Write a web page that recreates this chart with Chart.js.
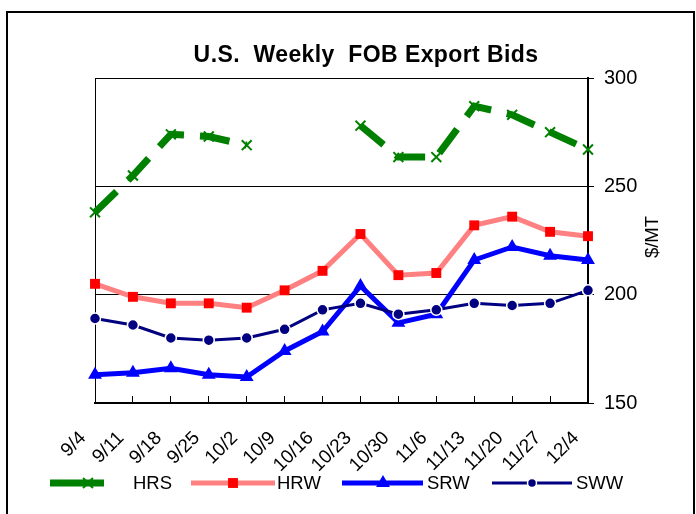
<!DOCTYPE html>
<html>
<head>
<meta charset="utf-8">
<title>U.S. Weekly FOB Export Bids</title>
<script src="https://cdn.jsdelivr.net/npm/chart.js@4.4.1/dist/chart.umd.min.js"></script>
<style>
  html, body { margin: 0; padding: 0; background: #ffffff; }
  #wrap { width: 696px; height: 514px; }
</style>
</head>
<body>
<div id="wrap"><canvas id="chart" width="696" height="514"></canvas></div>
<script>
// weekly bids, $/MT
const weeks = ['9/4', '9/11', '9/18', '9/25', '10/2', '10/9', '10/16', '10/23', '10/30', '11/6', '11/13', '11/20', '11/27', '12/4'];
const hrs = [238, 255, 274, 273, 269, null, null, 278, 263.5, 263.5, 287, 283, 275, 267];
const hrw = [205, 199, 196, 196, 194, 202, 211, 228, 209, 210, 232, 236, 229, 227];
const srw = [163, 164, 166, 163, 162, 174, 183, 204, 187, 191, 216, 222, 218, 216];
const sww = [189, 186, 180, 179, 180, 184, 193, 196, 191, 193, 196, 195, 196, 202];
const yTicks = [150, 200, 250, 300];

const FONT = "'Liberation Sans', Arial, Helvetica, sans-serif";
Chart.defaults.font.family = FONT;
Chart.defaults.color = '#000';

// legend slots: line start/end, marker x, text x
const legendSlots = [
  { x1: 50, x2: 104, mx: 88, tx: 133 },
  { x1: 191, x2: 275, mx: 233, tx: 277 },
  { x1: 342, x2: 423, mx: 383, tx: 427 },
  { x1: 492, x2: 572, mx: 532, tx: 576 }
];
const legendY = 483;

// Excel-like pieces drawn by hand: frame, title, axis title, week labels, legend
const framePlugin = {
  id: 'frame',
  beforeDatasetsDraw(chart) {
    const { ctx, chartArea: a } = chart;
    ctx.save();
    ctx.strokeStyle = '#000';
    ctx.lineWidth = 1;
    ctx.beginPath();
    ctx.moveTo(a.left + 0.5, a.bottom);
    ctx.lineTo(a.left + 0.5, a.top);
    ctx.stroke();
    ctx.restore();
  },
  afterDraw(chart) {
    const ctx = chart.ctx;
    const xScale = chart.scales.x;
    ctx.save();

    // outer border
    ctx.strokeStyle = '#000';
    ctx.lineWidth = 2;
    ctx.strokeRect(7, 12, 687, 520);

    // title
    ctx.fillStyle = '#000';
    ctx.font = 'bold 23px ' + FONT;
    ctx.letterSpacing = '0.4px';
    ctx.textAlign = 'center';
    ctx.textBaseline = 'alphabetic';
    ctx.fillText('U.S.  Weekly  FOB Export Bids', 366, 62);
    ctx.letterSpacing = '0px';

    // y axis title, reads bottom to top
    ctx.save();
    ctx.translate(653, 237);
    ctx.rotate(-Math.PI / 2);
    ctx.font = '18.5px ' + FONT;
    ctx.textBaseline = 'middle';
    ctx.fillText('$/MT', 0, 0);
    ctx.restore();

    // week labels, slanted 45 degrees and ending a little left of the tick
    ctx.font = '19px ' + FONT;
    ctx.textAlign = 'right';
    ctx.textBaseline = 'middle';
    weeks.forEach((w, i) => {
      const x = xScale.getPixelForTick(i);
      ctx.save();
      ctx.translate(x - 12, xScale.top + 32);
      ctx.rotate(-Math.PI / 4);
      ctx.fillText(w, 0, 0);
      ctx.restore();
    });

    // legend
    ctx.font = '18.5px ' + FONT;
    ctx.textAlign = 'left';
    chart.data.datasets.forEach((ds, i) => {
      const s = legendSlots[i];
      ctx.save();
      ctx.setLineDash([]);
      ctx.lineCap = 'butt';
      ctx.strokeStyle = ds.borderColor;
      ctx.lineWidth = ds.borderWidth;
      ctx.beginPath();
      ctx.moveTo(s.x1, legendY);
      ctx.lineTo(s.x2, legendY);
      ctx.stroke();
      ctx.fillStyle = ds.pointBackgroundColor;
      ctx.strokeStyle = ds.pointBorderColor;
      ctx.lineWidth = ds.pointBorderWidth;
      Chart.helpers.drawPoint(ctx, {
        pointStyle: ds.pointStyle,
        rotation: 0,
        radius: ds.legendRadius || ds.pointRadius,
        borderWidth: ds.pointBorderWidth
      }, s.mx, legendY);
      ctx.restore();
      ctx.fillStyle = '#000';
      ctx.fillText(ds.label, s.tx, legendY + 1);
    });

    ctx.restore();
  }
};

new Chart(document.getElementById('chart'), {
  type: 'line',
  data: {
    labels: weeks,
    datasets: [
      {
        label: 'HRS',
        data: hrs,
        borderColor: '#008000',
        borderWidth: 7,
        borderDash: [30, 16],
        borderCapStyle: 'butt',
        pointStyle: 'crossRot',
        pointRadius: 7,
        pointBorderWidth: 2,
        pointBackgroundColor: '#008000',
        pointBorderColor: '#008000',
        tension: 0,
        spanGaps: false,
        clip: false,
        order: 3
      },
      {
        label: 'HRW',
        data: hrw,
        borderColor: '#FF8080',
        borderWidth: 5,
        pointStyle: 'rect',
        pointRadius: 7,
        pointBorderWidth: 0,
        pointBackgroundColor: '#FF0000',
        pointBorderColor: '#FF0000',
        tension: 0,
        clip: false,
        order: 2
      },
      {
        label: 'SRW',
        data: srw,
        borderColor: '#0000FF',
        borderWidth: 5,
        pointStyle: 'triangle',
        pointRadius: 6,
        pointBorderWidth: 2,
        pointBackgroundColor: '#0000FF',
        pointBorderColor: '#0000FF',
        tension: 0,
        clip: false,
        order: 1
      },
      {
        label: 'SWW',
        data: sww,
        borderColor: '#000080',
        borderWidth: 3,
        pointStyle: 'circle',
        pointRadius: 5.5,
        pointBorderWidth: 1.5,
        pointBackgroundColor: '#000080',
        pointBorderColor: '#FFFFFF',
        legendRadius: 4.5,
        tension: 0,
        clip: false,
        order: 0
      }
    ]
  },
  options: {
    responsive: false,
    animation: false,
    layout: { padding: { left: 95, top: 78, right: 0, bottom: 0 } },
    plugins: {
      legend: { display: false },
      title: { display: false },
      tooltip: { enabled: false }
    },
    scales: {
      x: {
        offset: false,
        grid: {
          drawOnChartArea: false,
          drawTicks: true,
          tickLength: -7,
          color: '#000',
          lineWidth: 1
        },
        border: { display: true, color: '#000', width: 2 },
        ticks: { display: false, autoSkip: false },
        afterFit(scale) { scale.height = 111; }
      },
      y: {
        position: 'right',
        min: 150,
        max: 300,
        afterBuildTicks(scale) {
          scale.ticks = yTicks.map(v => ({ value: v }));
        },
        grid: {
          drawOnChartArea: true,
          drawTicks: true,
          tickLength: 6,
          color: '#000',
          lineWidth: 1
        },
        border: { display: true, color: '#000', width: 2 },
        ticks: {
          padding: 10,
          color: '#000',
          font: { size: 20 }
        },
        afterFit(scale) { scale.width = 108; }
      }
    }
  },
  plugins: [framePlugin]
});
</script>
</body>
</html>
